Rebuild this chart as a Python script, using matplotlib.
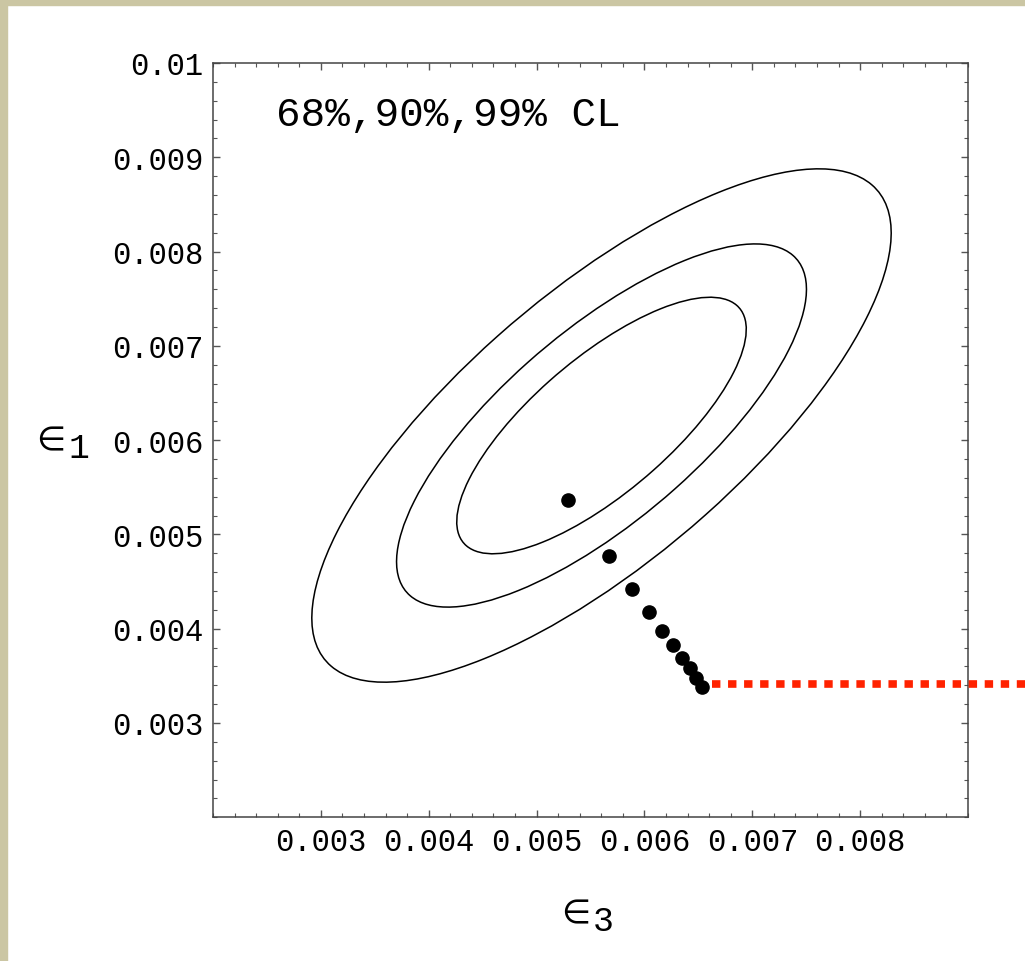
import numpy as np
from matplotlib import pyplot as plt
from matplotlib.patches import Ellipse, Rectangle
from matplotlib.ticker import MultipleLocator

# fit result (centre, widths, correlation) for the CL ellipses
center = (0.005602, 0.006155)
sigma_e3 = 0.000885
sigma_e1 = 0.000897
rho = 0.75
cl_levels = [2.30, 4.61, 9.21]   # delta chi2, 2 dof : 68%, 90%, 99%

# model points
e3_points = [0.005296, 0.005673, 0.005889, 0.006044, 0.006167,
             0.006262, 0.006345, 0.006419, 0.006481, 0.006537]
e1_points = [0.005365, 0.004771, 0.004424, 0.004174, 0.003979,
             0.003827, 0.003692, 0.003580, 0.003477, 0.003385]

# red dotted line
red_e3 = [0.00663, 0.0100]
red_e1 = [0.003414, 0.003414]

x_ticks = [0.003, 0.004, 0.005, 0.006, 0.007, 0.008]
y_ticks = [0.003, 0.004, 0.005, 0.006, 0.007, 0.008, 0.009, 0.01]
x_labels = ['0.003', '0.004', '0.005', '0.006', '0.007', '0.008']
y_labels = ['0.003', '0.004', '0.005', '0.006', '0.007', '0.008', '0.009', '0.01']

mono = 'Liberation Mono'
beige = '#cbc6a3'

fig = plt.figure(figsize=(10.25, 9.62), dpi=100)
fig.patch.set_facecolor('white')
# textured frame in the original, just flat strips here
fig.add_artist(Rectangle((0, 1 - 6 / 962), 1, 6 / 962, transform=fig.transFigure,
                         color=beige, zorder=-5))
fig.add_artist(Rectangle((0, 0), 7 / 1025, 1, transform=fig.transFigure,
                         color=beige, zorder=-5))

ax = fig.add_axes([0.2078, 0.1494, 0.7366, 0.7841])

cov = np.array([[sigma_e3 ** 2, rho * sigma_e3 * sigma_e1],
                [rho * sigma_e3 * sigma_e1, sigma_e1 ** 2]])
vals, vecs = np.linalg.eigh(cov)
angle = np.degrees(np.arctan2(vecs[1, 1], vecs[0, 1]))
for k in cl_levels:
    ell = Ellipse(center, 2 * np.sqrt(k * vals[1]), 2 * np.sqrt(k * vals[0]),
                  angle=angle, fill=False, edgecolor='black', lw=1.1)
    ax.add_patch(ell)

ax.plot(e3_points, e1_points, 'o', color='black', markersize=9.5, zorder=4)
ax.plot(red_e3, red_e1, color='#ff2200', lw=5.5, dashes=(1.1, 1.0),
        dash_capstyle='butt', clip_on=False, zorder=3)

ax.set_xlim(0.002, 0.009)
ax.set_ylim(0.002, 0.01)
ax.set_xticks(x_ticks)
ax.set_xticklabels(x_labels, fontfamily=mono, fontsize=22)
ax.set_yticks(y_ticks)
ax.set_yticklabels(y_labels, fontfamily=mono, fontsize=22)
ax.xaxis.set_minor_locator(MultipleLocator(0.0002))
ax.yaxis.set_minor_locator(MultipleLocator(0.0002))
ax.tick_params(which='both', direction='in', top=True, right=True, color='#555555')
ax.tick_params(which='major', length=5, width=1.0, pad=7)
ax.tick_params(which='minor', length=3, width=0.8)
for sp in ax.spines.values():
    sp.set_color('#444444')
    sp.set_linewidth(1.1)

ax.text(0.083, 0.957, '68%,90%,99% CL', transform=ax.transAxes,
        fontfamily=mono, fontsize=29.5, va='top', ha='left')

# axis labels: "element of" sign with a subscript digit
ax.text(-0.2146, 0.4883, '\u2208', transform=ax.transAxes, fontsize=24,
        fontfamily='DejaVu Sans', ha='center', va='baseline', clip_on=False)
ax.text(-0.1771, 0.4777, '1', transform=ax.transAxes, fontsize=25,
        fontfamily=mono, ha='center', va='baseline', clip_on=False)
ax.text(0.4808, -0.1388, '\u2208', transform=ax.transAxes, fontsize=24,
        fontfamily='DejaVu Sans', ha='center', va='baseline', clip_on=False)
ax.text(0.5172, -0.1494, '3', transform=ax.transAxes, fontsize=25,
        fontfamily=mono, ha='center', va='baseline', clip_on=False)

fig.savefig('out.png', dpi=100)
